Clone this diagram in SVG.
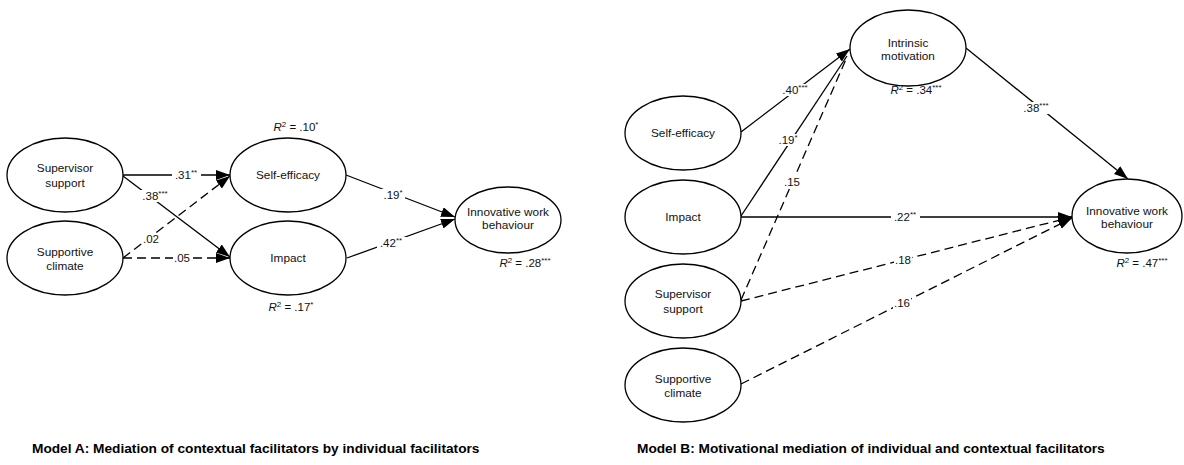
<svg xmlns="http://www.w3.org/2000/svg" width="1184" height="465" viewBox="0 0 1184 465">
  <style>
    text { font-family: "Liberation Sans", Arial, sans-serif; fill: #111; }
    .node ellipse { fill: #fff; stroke: #000; stroke-width: 1.3; }
    .node text { font-size: 11.8px; text-anchor: middle; }
    .edge { stroke: #000; stroke-width: 1.3; fill: none; }
    .dash { stroke-dasharray: 9 5; }
    .bg { fill: #fff; }
    .coef { font-size: 11.5px; text-anchor: middle; }
    .r2 { font-size: 11.5px; text-anchor: middle; }
    .sup { font-size: 8px; }
    .cap { font-size: 13.7px; font-weight: bold; fill: #000; }
  </style>
  <defs>
    <marker id="head" markerUnits="userSpaceOnUse" markerWidth="15" markerHeight="11" refX="14" refY="5" orient="auto">
      <path d="M0,0 L14,5 L0,10 z" fill="#000"/>
    </marker>
  </defs>

  <rect width="1184" height="465" fill="#fff"/>

  <!-- connectors -->
  <g id="connectors">
    <!-- Model A -->
    <path class="edge" d="M123,175 L230,175" marker-end="url(#head)"/>
    <path class="edge" d="M123,176 L230,257" marker-end="url(#head)"/>
    <path class="edge dash" d="M123,258 L230,176" marker-end="url(#head)"/>
    <path class="edge dash" d="M123,258 L230,258" marker-end="url(#head)"/>
    <path class="edge" d="M346,175 L455,217" marker-end="url(#head)"/>
    <path class="edge" d="M347,258 L455,219" marker-end="url(#head)"/>
    <!-- Model B -->
    <path class="edge" d="M741,216 L847,56"/>
    <path class="edge dash" d="M741,300 L847,57"/>
    <path class="edge" d="M741,132 L850,49" marker-end="url(#head)"/>
    <path class="edge" d="M966,48 L1128,179" marker-end="url(#head)"/>
    <path class="edge dash" d="M741,384 L1072,218" marker-end="url(#head)"/>
    <path class="edge dash" d="M741,301 L1072,217" marker-end="url(#head)"/>
    <path class="edge" d="M741,217 L1072,217" marker-end="url(#head)"/>

    <!-- label backings that break the lines -->
    <rect class="bg" x="172" y="169" width="29" height="12"/>
    <rect class="bg" x="139" y="190" width="32" height="12"/>
    <rect class="bg" x="142" y="233" width="18" height="12"/>
    <rect class="bg" x="173" y="252" width="18" height="12"/>
    <rect class="bg" x="381" y="189" width="24" height="12"/>
    <rect class="bg" x="377" y="237" width="29" height="12"/>
    <rect class="bg" x="779" y="84" width="32" height="12"/>
    <rect class="bg" x="776" y="134" width="24" height="12"/>
    <rect class="bg" x="783" y="176" width="18" height="12"/>
    <rect class="bg" x="1020" y="102" width="32" height="12"/>
    <rect class="bg" x="891" y="211" width="29" height="12"/>
    <rect class="bg" x="894" y="254" width="18" height="12"/>
    <rect class="bg" x="893" y="297" width="18" height="12"/>

    <!-- coefficients, Model A -->
    <text class="coef" x="186" y="179">.31<tspan class="sup" dy="-4">**</tspan></text>
    <text class="coef" x="155" y="200">.38<tspan class="sup" dy="-4">***</tspan></text>
    <text class="coef" x="151" y="243">.02</text>
    <text class="coef" x="182" y="262">.05</text>
    <text class="coef" x="393" y="199">.19<tspan class="sup" dy="-4">*</tspan></text>
    <text class="coef" x="391" y="247">.42<tspan class="sup" dy="-4">**</tspan></text>
    <!-- coefficients, Model B -->
    <text class="coef" x="795" y="94">.40<tspan class="sup" dy="-4">***</tspan></text>
    <text class="coef" x="788" y="144">.19<tspan class="sup" dy="-4">*</tspan></text>
    <text class="coef" x="792" y="186">.15</text>
    <text class="coef" x="1036" y="112">.38<tspan class="sup" dy="-4">***</tspan></text>
    <text class="coef" x="905" y="221">.22<tspan class="sup" dy="-4">**</tspan></text>
    <text class="coef" x="903" y="264">.18</text>
    <text class="coef" x="902" y="307">.16</text>
  </g>

  <!-- Model A nodes -->
  <g id="a-supervisor-support" class="node">
    <ellipse cx="65" cy="175" rx="58" ry="37"/>
    <text x="65" y="172">Supervisor</text>
    <text x="65" y="187">support</text>
  </g>
  <g id="a-supportive-climate" class="node">
    <ellipse cx="65" cy="258" rx="58" ry="37"/>
    <text x="65" y="256">Supportive</text>
    <text x="65" y="270">climate</text>
  </g>
  <g id="a-self-efficacy" class="node">
    <ellipse cx="288" cy="175" rx="58" ry="37"/>
    <text x="288" y="179">Self-efficacy</text>
  </g>
  <g id="a-impact" class="node">
    <ellipse cx="288" cy="258" rx="58" ry="37"/>
    <text x="288" y="262">Impact</text>
  </g>
  <g id="a-innovative-work-behaviour" class="node">
    <ellipse cx="508" cy="220" rx="53" ry="33"/>
    <text x="508" y="216">Innovative work</text>
    <text x="508" y="229">behaviour</text>
  </g>
  <text class="r2" x="296" y="131"><tspan font-style="italic">R</tspan><tspan class="sup" dy="-4">2</tspan><tspan dy="4"> = .10</tspan><tspan class="sup" dy="-4">*</tspan></text>
  <text class="r2" x="291" y="311"><tspan font-style="italic">R</tspan><tspan class="sup" dy="-4">2</tspan><tspan dy="4"> = .17</tspan><tspan class="sup" dy="-4">*</tspan></text>
  <text class="r2" x="525" y="267"><tspan font-style="italic">R</tspan><tspan class="sup" dy="-4">2</tspan><tspan dy="4"> = .28</tspan><tspan class="sup" dy="-4">***</tspan></text>

  <!-- Model B nodes -->
  <g id="b-self-efficacy" class="node">
    <ellipse cx="683" cy="133" rx="58" ry="37"/>
    <text x="683" y="137">Self-efficacy</text>
  </g>
  <g id="b-impact" class="node">
    <ellipse cx="683" cy="217" rx="58" ry="37"/>
    <text x="683" y="221">Impact</text>
  </g>
  <g id="b-supervisor-support" class="node">
    <ellipse cx="683" cy="301" rx="58" ry="37"/>
    <text x="683" y="298">Supervisor</text>
    <text x="683" y="313">support</text>
  </g>
  <g id="b-supportive-climate" class="node">
    <ellipse cx="683" cy="385" rx="58" ry="37"/>
    <text x="683" y="383">Supportive</text>
    <text x="683" y="397">climate</text>
  </g>
  <g id="b-intrinsic-motivation" class="node">
    <ellipse cx="908" cy="48" rx="58" ry="38"/>
    <text x="908" y="47">Intrinsic</text>
    <text x="908" y="60">motivation</text>
  </g>
  <g id="b-innovative-work-behaviour" class="node">
    <ellipse cx="1127" cy="216" rx="55" ry="37"/>
    <text x="1127" y="215">Innovative work</text>
    <text x="1127" y="228">behaviour</text>
  </g>
  <text class="r2" x="916" y="94"><tspan font-style="italic">R</tspan><tspan class="sup" dy="-4">2</tspan><tspan dy="4"> = .34</tspan><tspan class="sup" dy="-4">***</tspan></text>
  <text class="r2" x="1142" y="267"><tspan font-style="italic">R</tspan><tspan class="sup" dy="-4">2</tspan><tspan dy="4"> = .47</tspan><tspan class="sup" dy="-4">***</tspan></text>

  <!-- captions -->
  <text class="cap" x="32" y="453">Model A: Mediation of contextual facilitators by individual facilitators</text>
  <text class="cap" x="637" y="453">Model B: Motivational mediation of individual and contextual facilitators</text>
</svg>
